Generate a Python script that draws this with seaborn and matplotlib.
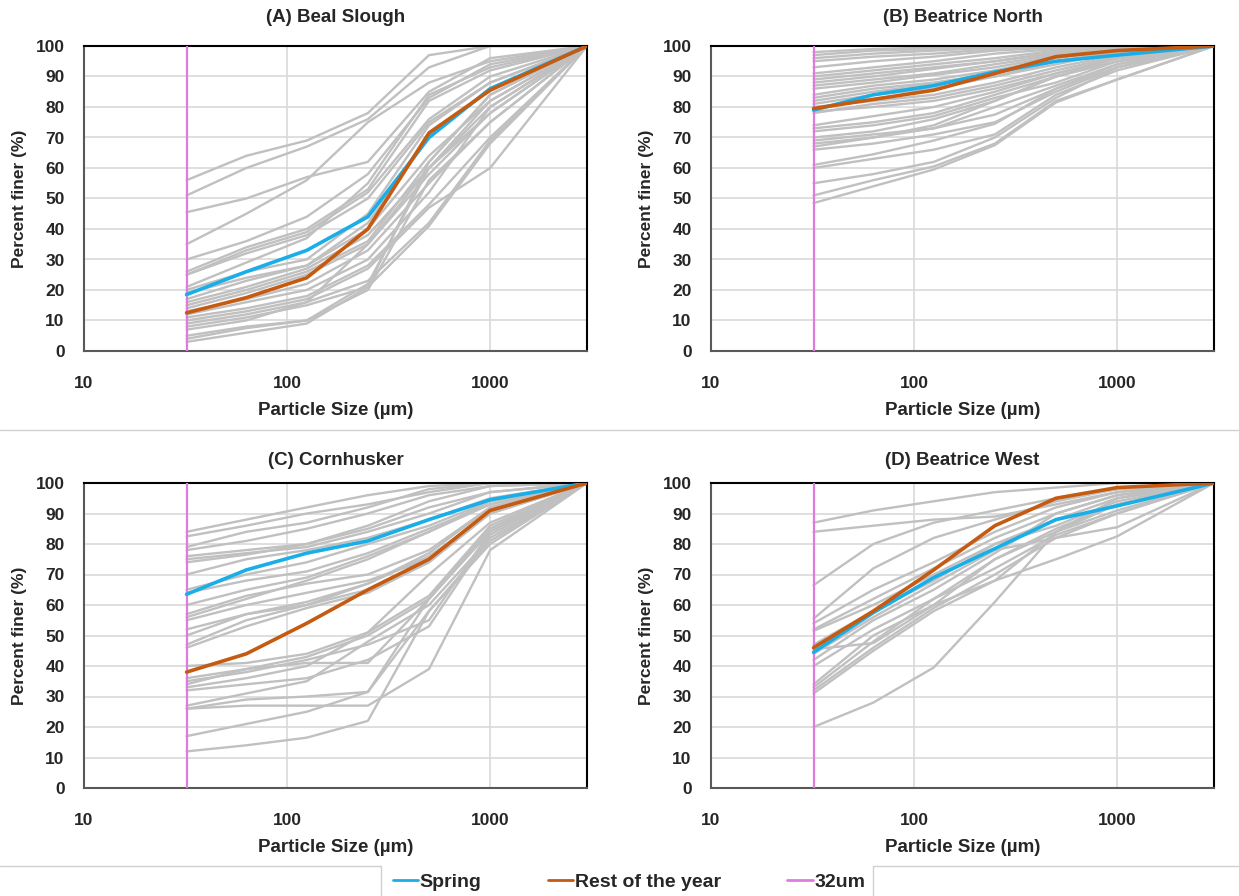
import numpy as np
import pandas as pd
import seaborn as sns
import matplotlib.pyplot as plt
from matplotlib.lines import Line2D

# sieve sizes (um)
sizes = [32, 63, 125, 250, 500, 1000, 3000]

# ---- (A) Beal Slough
beal_spring = [18.5, 26, 33, 44, 70, 86, 100]
beal_rest = [12.5, 17.5, 24, 40, 71.5, 85.5, 100]
beal_gray = [
    [56, 64, 69, 78, 97, 100, 100],
    [51, 60, 67, 76, 93, 100, 100],
    [45.5, 50, 57, 62, 85, 96, 100],
    [35, 45, 56, 75, 88, 95, 100],
    [30, 36, 44, 58, 83, 94, 100],
    [26, 34, 40, 53, 82, 92, 100],
    [25, 33, 39, 52, 76, 90, 100],
    [25, 32, 38, 50, 75, 88, 100],
    [21, 29, 37, 55, 84, 93, 100],
    [20, 26, 30, 45, 74, 88, 100],
    [19, 24, 28, 42, 70, 86, 100],
    [17, 23, 28, 40, 64, 82, 100],
    [16, 21, 27, 38, 60, 80, 100],
    [15, 20, 26, 36, 62, 84, 100],
    [14, 19, 25, 35, 58, 78, 100],
    [13, 17, 22, 33, 55, 75, 100],
    [12, 16, 20, 30, 52, 80, 100],
    [11, 14, 18, 28, 48, 70, 100],
    [10, 13, 17, 27, 47, 60, 100],
    [9, 12, 16, 23, 42, 69, 100],
    [8, 11, 15, 21, 41, 68, 100],
    [7, 10, 16, 35, 60, 78, 100],
    [5, 8, 10, 20, 56, 75, 100],
    [4, 7.5, 10, 22, 60, 82, 100],
    [3, 6, 9, 21, 62, 84, 100],
]

# ---- (B) Beatrice North
north_spring = [79, 84, 87, 91.5, 95, 97, 100]
north_rest = [79.5, 82.5, 85.5, 91, 96.5, 98.5, 100]
north_gray = [
    [98, 99, 99.5, 100, 100, 100, 100],
    [97, 98.5, 99, 99.5, 100, 100, 100],
    [96, 97.5, 98.5, 99.5, 100, 100, 100],
    [95, 96.5, 97.5, 99, 100, 100, 100],
    [93, 95, 96.5, 98.5, 99.5, 100, 100],
    [91, 93, 95, 97.5, 99, 100, 100],
    [90, 92, 94, 96, 98.5, 99.5, 100],
    [89, 91, 93, 95, 98, 99.5, 100],
    [88, 90, 92.5, 95, 97.5, 99, 100],
    [87, 89, 91, 94, 97, 99, 100],
    [86, 88, 90.5, 93, 96.5, 99, 100],
    [84, 87, 89, 92, 96, 98.5, 100],
    [83, 86, 88, 91, 95, 98, 100],
    [82, 85, 87.5, 90, 94, 98, 100],
    [81, 84, 86, 90, 95, 98, 100],
    [80, 82, 84, 88, 93, 97, 100],
    [78, 81, 83, 87, 92, 96.5, 100],
    [78.5, 80, 82, 86, 91, 96, 100],
    [74, 77, 80, 85, 91, 96, 100],
    [73, 75, 78, 84, 90, 95, 100],
    [72, 74, 77, 83, 88, 95, 100],
    [70, 72, 76, 82, 90, 96, 100],
    [69, 71, 73, 77.5, 86, 94, 100],
    [68, 70, 74, 82, 90, 95, 100],
    [67, 70, 73, 80, 87, 94, 100],
    [66, 68, 71, 75, 85, 93, 100],
    [61, 64.5, 69, 74.5, 86, 93, 100],
    [60, 63, 66, 71, 84, 92, 100],
    [55, 58, 62, 70, 83, 93, 100],
    [51, 56, 60.5, 68, 82, 89, 100],
    [48.5, 54, 59.5, 67.5, 81.5, 89, 100],
]

# ---- (C) Cornhusker
corn_spring = [63.5, 71.5, 77, 81, 88, 94.5, 100]
corn_rest = [38, 44, 54, 65, 75, 91, 100]
corn_gray = [
    [84, 88, 92, 96, 99, 100, 100],
    [82.5, 86, 90, 93, 97, 100, 100],
    [79, 84, 87, 92, 98, 100, 100],
    [78, 81, 85, 90, 96, 99, 100],
    [76, 78, 80, 86, 94, 99, 100],
    [75, 77, 79, 84, 90, 97, 100],
    [74, 76.5, 80, 85, 92, 97, 100],
    [70, 75, 78, 82, 88, 95, 100],
    [65, 70, 74, 80, 86, 94, 100],
    [64, 68, 71, 77, 85, 93, 100],
    [60, 65, 69, 76, 84, 94, 100],
    [57, 63, 67, 70, 78, 92, 100],
    [56, 62, 68, 75, 84, 93, 100],
    [55, 60, 64, 68, 75, 91, 100],
    [52, 57, 61, 67, 77, 92, 100],
    [50, 57, 60, 65, 74, 90, 100],
    [47, 55, 60, 67, 76, 90, 100],
    [46, 53, 59, 64, 74, 91, 100],
    [40, 41, 44, 51, 63, 86, 100],
    [36, 39, 43, 50, 62, 85, 100],
    [35, 38, 42, 47, 55, 84, 100],
    [34, 39, 41, 41, 62, 85, 100],
    [33, 36, 40, 51, 70, 87, 100],
    [32, 34, 36, 42, 53, 83, 100],
    [27, 31, 35, 48, 60, 82, 100],
    [26, 27, 27, 27, 39, 78, 100],
    [26, 29, 30, 31.5, 58, 81, 100],
    [17, 21, 25, 31.5, 62, 84, 100],
    [12, 14, 16.5, 22, 58, 80, 100],
]

# ---- (D) Beatrice West
west_spring = [44.5, 57.5, 69, 78.5, 88, 92.5, 100]
west_rest = [46, 58, 71.5, 86, 95, 98.5, 100]
west_gray = [
    [87, 91, 94, 97, 98.5, 100, 100],
    [84, 86, 88, 89, 93, 97, 100],
    [66.5, 80, 87, 91, 95, 98, 100],
    [55.5, 72, 82, 88, 94, 98, 100],
    [54, 65, 74, 84, 92, 97, 100],
    [52, 62, 72, 82, 90, 96, 100],
    [51.5, 60, 70, 80, 88, 95, 100],
    [47, 58, 68, 80, 86, 94, 100],
    [45.5, 47.5, 60, 75, 84, 91, 100],
    [44, 56, 67, 78, 82, 85.5, 100],
    [42, 55, 65, 77, 90, 96, 100],
    [40, 52, 62, 72, 83, 90, 100],
    [34, 50, 60, 68, 75, 82.5, 100],
    [33, 48, 62, 75, 85, 93, 100],
    [32, 46, 59, 70, 82, 90, 100],
    [31, 45, 58, 68, 84, 95, 100],
    [20, 28, 39.5, 61, 84, 93, 100],
]

panels = [
    ("(A) Beal Slough", beal_gray, beal_spring, beal_rest),
    ("(B) Beatrice North", north_gray, north_spring, north_rest),
    ("(C) Cornhusker", corn_gray, corn_spring, corn_rest),
    ("(D) Beatrice West", west_gray, west_spring, west_rest),
]

cutoff = 32
gray_col = "#C0C0C0"
spring_col = "#1AAEE8"
rest_col = "#C55A11"
cut_col = "#E07BDE"

sns.set_theme(style="white")
plt.rcParams["font.family"] = ["Liberation Sans", "DejaVu Sans"]

fig = plt.figure(figsize=(12.39, 8.96), dpi=100)
W, H = 1239, 896
boxes = [(84, 46), (711, 46), (84, 483), (711, 483)]
ax_w, ax_h = 503, 305

for k, ((title, gray, spring, rest), (x0, y0)) in enumerate(zip(panels, boxes)):
    ax = fig.add_axes([x0 / W, 1 - (y0 + ax_h) / H, ax_w / W, ax_h / H])
    long = pd.DataFrame(
        [(i, s, v) for i, row in enumerate(gray) for s, v in zip(sizes, row)],
        columns=["sample", "size", "pct"],
    )
    sns.lineplot(data=long, x="size", y="pct", units="sample", estimator=None,
                 color=gray_col, lw=1.7, ax=ax, zorder=2)
    # 32 um cutoff
    sns.lineplot(x=[cutoff, cutoff], y=[0, 100], estimator=None, sort=False,
                 color=cut_col, lw=1.6, ax=ax, zorder=3)
    sns.lineplot(x=sizes, y=spring, estimator=None, color=spring_col, lw=2.6,
                 ax=ax, zorder=4)
    sns.lineplot(x=sizes, y=rest, estimator=None, color=rest_col, lw=2.6,
                 ax=ax, zorder=5)

    ax.set_xscale("log")
    ax.set_xlim(10, sizes[-1])
    ax.set_ylim(0, 100)
    ax.set_yticks(range(0, 101, 10))
    ax.set_xticks([10, 100, 1000])
    ax.set_xticklabels(["10", "100", "1000"])
    ax.minorticks_off()
    ax.grid(True, color="#D9D9D9", lw=1.2, zorder=0)
    ax.set_axisbelow(True)
    ax.tick_params(axis="y", length=0, labelsize=12.5, pad=14)
    ax.tick_params(axis="x", length=0, labelsize=12.5, pad=18)
    for lab in ax.get_xticklabels() + ax.get_yticklabels():
        lab.set_fontweight("bold")
    for side in ["left", "bottom"]:
        ax.spines[side].set_color("#595959")
        ax.spines[side].set_linewidth(1.5)
    for side in ["top", "right"]:
        ax.spines[side].set_color("black")
        ax.spines[side].set_linewidth(1.5)
    ax.set_title(title, fontsize=13.5, fontweight="bold",
                 pad=17 if k < 2 else 13)
    ax.set_xlabel("Particle Size (\u00b5m)", fontsize=13.5, fontweight="bold",
                  labelpad=8)
    ax.set_ylabel("Percent finer (%)", fontsize=12.5, fontweight="bold",
                  labelpad=6)

# separator lines
sep = "#D0D0D0"
fig.add_artist(Line2D([0, 1], [1 - 430 / H] * 2, color=sep, lw=1))
fig.add_artist(Line2D([0, 381 / W], [1 - 866 / H] * 2, color=sep, lw=1))
fig.add_artist(Line2D([873 / W, 1], [1 - 866 / H] * 2, color=sep, lw=1))
fig.add_artist(Line2D([381 / W] * 2, [1 - 866 / H, 0], color=sep, lw=1))
fig.add_artist(Line2D([873 / W] * 2, [1 - 866 / H, 0], color=sep, lw=1))

handles = [
    Line2D([], [], color=spring_col, lw=2),
    Line2D([], [], color=rest_col, lw=2),
    Line2D([], [], color=cut_col, lw=2),
]
fig.legend(handles, ["Spring", "Rest of the year", "32um"], ncol=3,
           loc="center", bbox_to_anchor=(629 / W, 1 - 882 / H), frameon=False,
           prop={"weight": "bold", "size": 14},
           handlelength=1.3, handletextpad=0.1, columnspacing=3.4)

fig.savefig("out.png", dpi=100, facecolor="white")
